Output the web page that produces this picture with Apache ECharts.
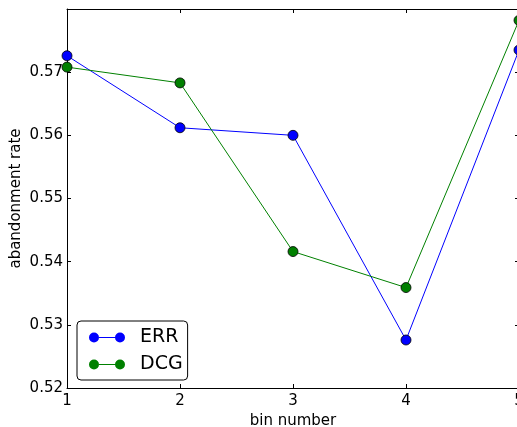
<!DOCTYPE html>
<html>
<head>
<meta charset="utf-8">
<script src="https://cdn.jsdelivr.net/npm/echarts@6/dist/echarts.min.js"></script>
<style>
  html, body { margin: 0; padding: 0; background: #fff; }
  #chart { width: 517px; height: 427px; }
</style>
</head>
<body>
<div id="chart"></div>
<script>
// bin numbers on x axis
const bins = [1, 2, 3, 4, 5]
// abandonment rate per bin
const errValues = [0.5726, 0.5612, 0.5600, 0.5276, 0.5735]
const dcgValues = [0.5708, 0.5683, 0.5416, 0.5359, 0.5782]

const font = 'DejaVu Sans'
// two dots joined by a thin line, like the matplotlib legend handle
const legendIcon = 'path://M0,5a5,5 0 1,0 10,0a5,5 0 1,0 -10,0Z M26,5a5,5 0 1,0 10,0a5,5 0 1,0 -10,0Z M10,4.5h16v1h-16Z'

const toPairs = vals => bins.map((b, i) => [b, vals[i]])

const chart = echarts.init(document.getElementById('chart'))

const hiddenAxisBits = {
  axisLine: { show: true, lineStyle: { color: '#000', width: 1 } },
  axisTick: { show: true, inside: true, length: 4, lineStyle: { color: '#000' } },
  axisLabel: { show: false },
  splitLine: { show: false }
}

const option = {
  animation: false,
  textStyle: { fontFamily: font },
  grid: { left: 67, right: -2, top: 9, bottom: 39, outerBoundsMode: 'none', containLabel: false },
  xAxis: [
    {
      type: 'value',
      min: 1,
      max: 5,
      interval: 1,
      name: 'bin number',
      nameLocation: 'middle',
      nameGap: 26,
      nameMoveOverlap: false,
      nameTextStyle: { fontSize: 15, color: '#000', fontFamily: font },
      axisLine: { show: true, lineStyle: { color: '#000', width: 1 } },
      axisTick: { show: true, inside: true, length: 4, lineStyle: { color: '#000' } },
      axisLabel: { fontSize: 15, color: '#000', margin: 6, fontFamily: font },
      splitLine: { show: false }
    },
    Object.assign({ type: 'value', position: 'top', min: 1, max: 5, interval: 1 }, hiddenAxisBits)
  ],
  yAxis: [
    {
      type: 'value',
      min: 0.52,
      max: 0.58,
      interval: 0.01,
      name: 'abandonment rate',
      nameLocation: 'middle',
      nameGap: 43,
      nameMoveOverlap: false,
      nameTextStyle: { fontSize: 15, color: '#000', fontFamily: font },
      axisLine: { show: true, lineStyle: { color: '#000', width: 1 } },
      axisTick: { show: true, inside: true, length: 4, lineStyle: { color: '#000' } },
      axisLabel: {
        fontSize: 15,
        color: '#000',
        margin: 4,
        fontFamily: font,
        formatter: v => (Math.abs(v - 0.58) < 1e-9 ? '' : v.toFixed(2))
      },
      splitLine: { show: false }
    },
    Object.assign({ type: 'value', position: 'right', min: 0.52, max: 0.58, interval: 0.01 }, hiddenAxisBits)
  ],
  legend: {
    orient: 'vertical',
    left: 77,
    top: 321,
    padding: [7, 5, 6, 12],
    itemGap: 8,
    itemWidth: 36,
    itemHeight: 10,
    borderColor: '#000',
    borderWidth: 1,
    borderRadius: 4,
    backgroundColor: '#fff',
    textStyle: { fontSize: 19, color: '#000', fontFamily: font, padding: [0, 0, 0, 10] },
    itemStyle: { borderWidth: 0 },
    data: [
      { name: 'ERR', icon: legendIcon },
      { name: 'DCG', icon: legendIcon }
    ]
  },
  series: [
    {
      name: 'ERR',
      type: 'line',
      xAxisIndex: 0,
      yAxisIndex: 0,
      data: toPairs(errValues),
      symbol: 'circle',
      symbolSize: 10,
      clip: false,
      lineStyle: { color: '#0000ff', width: 1 },
      itemStyle: { color: '#0000ff', borderColor: '#000', borderWidth: 0.8 }
    },
    {
      name: 'DCG',
      type: 'line',
      xAxisIndex: 0,
      yAxisIndex: 0,
      data: toPairs(dcgValues),
      symbol: 'circle',
      symbolSize: 10,
      clip: false,
      lineStyle: { color: '#008000', width: 1 },
      itemStyle: { color: '#008000', borderColor: '#000', borderWidth: 0.8 }
    }
  ]
}

chart.setOption(option)
</script>
</body>
</html>
